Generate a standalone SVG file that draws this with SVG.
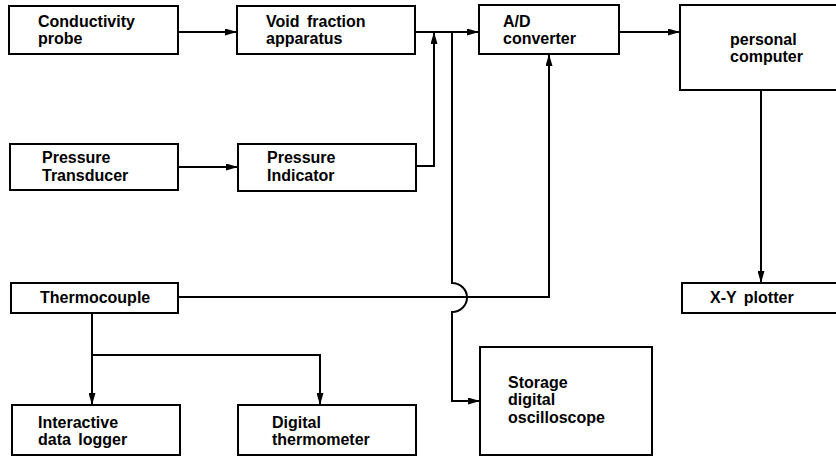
<svg xmlns="http://www.w3.org/2000/svg" width="836" height="457" viewBox="0 0 836 457">
<style>
.box{fill:#fff;stroke:#000;stroke-width:2}
.ln{fill:none;stroke:#000;stroke-width:2}
text{font-family:"Liberation Sans",Arial,sans-serif;font-weight:bold;font-size:16px;word-spacing:3px;fill:#000}
</style>
<defs>
<marker id="ah" viewBox="0 0 12 7" refX="12" refY="3.5" markerWidth="12" markerHeight="7" markerUnits="userSpaceOnUse" orient="auto">
<path d="M0,0 L12,3.5 L0,7 Z" fill="#000"/>
</marker>
</defs>
<rect width="836" height="457" fill="#fff"/>
<g id="connectors">
<path class="ln" d="M178,32 H237" marker-end="url(#ah)"/>
<path class="ln" d="M415,32 H479" marker-end="url(#ah)"/>
<path class="ln" d="M416,166 H434 V32" marker-end="url(#ah)"/>
<path class="ln" d="M178,167 H238" marker-end="url(#ah)"/>
<path class="ln" d="M619,32 H680" marker-end="url(#ah)"/>
<path class="ln" d="M761,90 V283" marker-end="url(#ah)"/>
<path class="ln" d="M178,297 H549 V54" marker-end="url(#ah)"/>
<path class="ln" d="M452,32 V283 A15,14.5 0 0 1 452,312 V401 H480" marker-end="url(#ah)"/>
<path class="ln" d="M92,313 V405" marker-end="url(#ah)"/>
<path class="ln" d="M92,355 H320 V405" marker-end="url(#ah)"/>
</g>
<g id="conductivity-probe">
<rect class="box" x="9" y="6" width="169" height="48"/>
<text x="38" y="27">Conductivity</text>
<text x="38" y="44">probe</text>
</g>
<g id="void-fraction">
<rect class="box" x="237" y="6" width="178" height="48"/>
<text x="266" y="27">Void fraction</text>
<text x="266" y="44">apparatus</text>
</g>
<g id="ad-converter">
<rect class="box" x="479" y="5" width="140" height="49"/>
<text x="503" y="27">A/D</text>
<text x="503" y="44">converter</text>
</g>
<g id="personal-computer">
<rect class="box" x="680" y="5" width="170" height="85"/>
<text x="730" y="45">personal</text>
<text x="730" y="62">computer</text>
</g>
<g id="pressure-transducer">
<rect class="box" x="10" y="144" width="168" height="46"/>
<text x="42" y="163">Pressure</text>
<text x="42" y="181">Transducer</text>
</g>
<g id="pressure-indicator">
<rect class="box" x="238" y="144" width="178" height="47"/>
<text x="267" y="163">Pressure</text>
<text x="267" y="181">Indicator</text>
</g>
<g id="thermocouple">
<rect class="box" x="11" y="283" width="167" height="30"/>
<text x="40" y="303">Thermocouple</text>
</g>
<g id="xy-plotter">
<rect class="box" x="682" y="283" width="170" height="30"/>
<text x="710" y="303">X-Y plotter</text>
</g>
<g id="data-logger">
<rect class="box" x="12" y="405" width="168" height="50"/>
<text x="38" y="428">Interactive</text>
<text x="38" y="445">data logger</text>
</g>
<g id="digital-thermometer">
<rect class="box" x="238" y="405" width="178" height="50"/>
<text x="272" y="428">Digital</text>
<text x="272" y="445">thermometer</text>
</g>
<g id="oscilloscope">
<rect class="box" x="480" y="347" width="172" height="108"/>
<text x="508" y="388">Storage</text>
<text x="508" y="405">digital</text>
<text x="508" y="423">oscilloscope</text>
</g>
</svg>
